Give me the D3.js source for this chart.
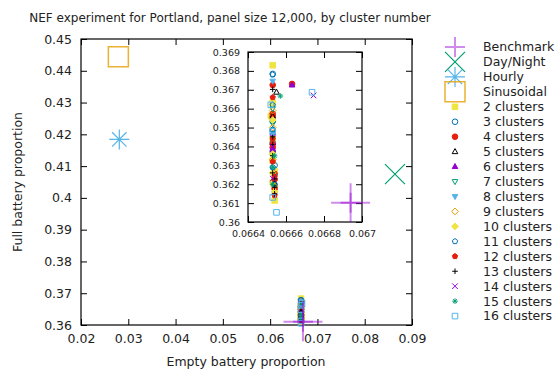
<!DOCTYPE html>
<html>
<head>
<meta charset="utf-8">
<script src="https://cdn.jsdelivr.net/npm/d3@7"></script>
<style>
  body { margin: 0; background: #fff; }
  text { font-family: "DejaVu Sans", sans-serif; fill: #222; }
</style>
</head>
<body>
<div id="chart"></div>
<script>
// values
const X_TICKS = [0.02, 0.03, 0.04, 0.05, 0.06, 0.07, 0.08, 0.09];
const X_LABELS = ["0.02", "0.03", "0.04", "0.05", "0.06", "0.07", "0.08", "0.09"];
const Y_TICKS = [0.36, 0.37, 0.38, 0.39, 0.40, 0.41, 0.42, 0.43, 0.44, 0.45];
const Y_LABELS = ["0.36", "0.37", "0.38", "0.39", "0.4", "0.41", "0.42", "0.43", "0.44", "0.45"];
const IX_TICKS = [0.0664, 0.0666, 0.0668, 0.067];
const IX_LABELS = ["0.0664", "0.0666", "0.0668", "0.067"];
const IY_TICKS = [0.36, 0.361, 0.362, 0.363, 0.364, 0.365, 0.366, 0.367, 0.368, 0.369];
const IY_LABELS = ["0.36", "0.361", "0.362", "0.363", "0.364", "0.365", "0.366", "0.367", "0.368", "0.369"];

const BASE_NAMES = ["Benchmark", "Day/Night", "Hourly", "Sinusoidal"];
const BASE_X = [0.06694, 0.0864, 0.0281, 0.0279];
const BASE_Y = [0.36102, 0.4075, 0.4184, 0.4444];

const CLUSTER_NAMES = ["2 clusters", "3 clusters", "4 clusters", "5 clusters", "6 clusters",
  "7 clusters", "8 clusters", "9 clusters", "10 clusters", "11 clusters", "12 clusters",
  "13 clusters", "14 clusters", "15 clusters", "16 clusters"];
const CLUSTER_X = [
  [0.06653, 0.06653, 0.06652, 0.06653, 0.06653, 0.06654, 0.06653, 0.06654],
  [0.06653, 0.06653, 0.06653, 0.06654, 0.06653],
  [0.066632, 0.06653, 0.06653, 0.06653, 0.06654, 0.06654, 0.06653, 0.06654, 0.06653],
  [0.06655, 0.06653, 0.06653, 0.06654],
  [0.066632, 0.06653, 0.06653, 0.06653],
  [0.06653, 0.06653, 0.06654, 0.06653],
  [0.06653, 0.06653, 0.06653, 0.06654],
  [0.06653, 0.06653, 0.06654, 0.06653],
  [0.06653, 0.06653, 0.06653, 0.06654, 0.06653],
  [0.06653, 0.06653, 0.06653, 0.06653, 0.06654],
  [0.06653, 0.06653, 0.06654, 0.06654, 0.06653],
  [0.06653, 0.06653, 0.06653, 0.06654, 0.06654, 0.06654, 0.06653, 0.06653],
  [0.066745, 0.06653, 0.06653],
  [0.06657, 0.06653, 0.06653, 0.06654],
  [0.066737, 0.06655, 0.06652, 0.06653, 0.06653]
];
const CLUSTER_Y = [
  [0.36830, 0.36632, 0.36561, 0.36325, 0.36210, 0.36114, 0.36440, 0.36270],
  [0.36784, 0.36535, 0.36486, 0.36300, 0.36420],
  [0.36731, 0.36725, 0.36574, 0.36412, 0.36255, 0.36176, 0.36395, 0.36225, 0.36560],
  [0.36687, 0.36560, 0.36380, 0.36205],
  [0.36725, 0.36386, 0.36370, 0.36470],
  [0.36520, 0.36350, 0.36240, 0.36600],
  [0.36746, 0.36470, 0.36280, 0.36150],
  [0.36500, 0.36330, 0.36190, 0.36590],
  [0.36540, 0.36360, 0.36260, 0.36160, 0.36620],
  [0.36780, 0.36620, 0.36290, 0.36490, 0.36200],
  [0.36660, 0.36440, 0.36240, 0.36141, 0.36320],
  [0.36702, 0.36451, 0.36351, 0.36228, 0.36184, 0.36149, 0.36410, 0.36260],
  [0.36670, 0.36400, 0.36230],
  [0.36667, 0.36290, 0.36200, 0.36350],
  [0.36687, 0.36051, 0.36620, 0.36480, 0.36130]
];

// gnuplot style colours and point types
const PURPLE = "#9400d3", GREEN = "#009e73", SKY = "#56b4e9", ORANGE = "#e69f00",
      YELLOW = "#f0e442", BLUE = "#0072b2", RED = "#e51e10", BLACK = "#000000";
const CLUSTER_COLORS = [YELLOW, BLUE, RED, BLACK, PURPLE, GREEN, SKY, ORANGE, YELLOW, BLUE, RED, BLACK, PURPLE, GREEN, SKY];
const CLUSTER_SHAPES = ["squareF", "circle", "circleF", "tri", "triF", "triD", "triDF", "diamond", "diamondF",
  "pent", "pentF", "plus", "cross", "star", "square"];

const WIDTH = 559, HEIGHT = 374;
const MAIN = {left: 81, right: 412, top: 39, bottom: 325};
const INSET = {left: 248, right: 362, top: 52, bottom: 222};

const svg = d3.select("#chart").append("svg")
  .attr("width", WIDTH).attr("height", HEIGHT);

const X_SCALE = d3.scaleLinear().domain([0.02, 0.09]).range([MAIN.left, MAIN.right]);
const Y_SCALE = d3.scaleLinear().domain([0.36, 0.45]).range([MAIN.bottom, MAIN.top]);
const IX_SCALE = d3.scaleLinear().domain([0.0664, 0.067]).range([INSET.left, INSET.right]);
const IY_SCALE = d3.scaleLinear().domain([0.36, 0.369]).range([INSET.bottom, INSET.top]);

// path for a gnuplot-like point symbol
function symbolPath(shape, cx, cy, s) {
  const p = d3.path();
  if (shape == "plus" || shape == "star") {
    p.moveTo(cx - s, cy); p.lineTo(cx + s, cy);
    p.moveTo(cx, cy - s); p.lineTo(cx, cy + s);
  }
  if (shape == "cross" || shape == "star") {
    const d = shape == "star" ? s * 0.72 : s;
    p.moveTo(cx - d, cy - d); p.lineTo(cx + d, cy + d);
    p.moveTo(cx - d, cy + d); p.lineTo(cx + d, cy - d);
  }
  if (shape.startsWith("square")) {
    p.rect(cx - s, cy - s, 2 * s, 2 * s);
  }
  if (shape.startsWith("circle")) {
    p.moveTo(cx + s, cy); p.arc(cx, cy, s, 0, 2 * Math.PI);
  }
  if (shape == "tri" || shape == "triF") {
    p.moveTo(cx, cy - s * 1.1); p.lineTo(cx + s, cy + s * 0.7); p.lineTo(cx - s, cy + s * 0.7); p.closePath();
  }
  if (shape.startsWith("triD")) {
    p.moveTo(cx, cy + s * 1.1); p.lineTo(cx + s, cy - s * 0.7); p.lineTo(cx - s, cy - s * 0.7); p.closePath();
  }
  if (shape.startsWith("diamond")) {
    p.moveTo(cx, cy - s * 1.2); p.lineTo(cx + s * 1.2, cy); p.lineTo(cx, cy + s * 1.2); p.lineTo(cx - s * 1.2, cy); p.closePath();
  }
  if (shape.startsWith("pent")) {
    for (let i = 0; i < 5; i++) {
      const a = -Math.PI / 2 + i * 2 * Math.PI / 5;
      if (i == 0) p.moveTo(cx + s * Math.cos(a), cy + s * Math.sin(a));
      else p.lineTo(cx + s * Math.cos(a), cy + s * Math.sin(a));
    }
    p.closePath();
  }
  return p.toString();
}

function drawSymbol(g, shape, cx, cy, s, color, sw, op) {
  const filled = shape.endsWith("F");
  g.append("path")
    .attr("d", symbolPath(shape, cx, cy, s))
    .attr("fill", filled ? color : "none")
    .attr("stroke", color)
    .attr("stroke-width", sw || 1)
    .attr("stroke-opacity", op || 1);
}

function drawBase(g, i, cx, cy, legend) {
  if (i == 0) {
    if (!legend) drawSymbol(g, "plus", cx, cy, 19.5, PURPLE, 2, 0.45);
    drawSymbol(g, "plus", cx, cy, 10, PURPLE, 2, 0.45);
  }
  if (i == 1) drawSymbol(g, "cross", cx, cy, 10, GREEN, 1.2);
  if (i == 2) drawSymbol(g, "star", cx, cy, 10, SKY, 1.2);
  if (i == 3) drawSymbol(g, "square", cx, cy, 10, ORANGE, 1.5, 0.8);
}

// axis with inward ticks on all four sides
function frameAxes(xs, ys, xt, xl, yt, yl, fs, pad) {
  const g = svg.append("g");
  const [l, r] = xs.range(), [b, t] = ys.range();
  g.append("g").attr("transform", "translate(0," + b + ")")
    .call(d3.axisBottom(xs).tickValues(xt).tickFormat((d, i) => xl[i]).tickSizeInner(-6).tickSizeOuter(0).tickPadding(pad));
  g.append("g").attr("transform", "translate(0," + t + ")")
    .call(d3.axisTop(xs).tickValues(xt).tickFormat("").tickSizeInner(-6).tickSizeOuter(0));
  g.append("g").attr("transform", "translate(" + l + ",0)")
    .call(d3.axisLeft(ys).tickValues(yt).tickFormat((d, i) => yl[i]).tickSizeInner(-6).tickSizeOuter(0).tickPadding(pad));
  g.append("g").attr("transform", "translate(" + r + ",0)")
    .call(d3.axisRight(ys).tickValues(yt).tickFormat("").tickSizeInner(-6).tickSizeOuter(0));
  g.selectAll(".domain").remove();
  g.selectAll(".tick line").attr("stroke", "#000");
  g.selectAll(".tick text").attr("font-size", fs + "px").attr("fill", "#222")
    .attr("font-family", "DejaVu Sans");
  g.append("rect").attr("x", l).attr("y", t).attr("width", r - l).attr("height", b - t)
    .attr("fill", "none").attr("stroke", "#000").attr("stroke-width", 1.2);
}

// main plot
frameAxes(X_SCALE, Y_SCALE, X_TICKS, X_LABELS, Y_TICKS, Y_LABELS, 12.5, 9);
const mainPts = svg.append("g");
CLUSTER_NAMES.forEach((n, k) => {
  CLUSTER_X[k].forEach((x, j) => {
    drawSymbol(mainPts, CLUSTER_SHAPES[k], X_SCALE(x), Y_SCALE(CLUSTER_Y[k][j]), 2.8, CLUSTER_COLORS[k], 1);
  });
});
BASE_NAMES.forEach((n, i) => drawBase(mainPts, i, X_SCALE(BASE_X[i]), Y_SCALE(BASE_Y[i]), false));

// inset
svg.append("rect").attr("x", INSET.left).attr("y", INSET.top)
  .attr("width", INSET.right - INSET.left).attr("height", INSET.bottom - INSET.top).attr("fill", "#fff");
frameAxes(IX_SCALE, IY_SCALE, IX_TICKS, IX_LABELS, IY_TICKS, IY_LABELS, 9.5, 8);
const insetPts = svg.append("g");
const inRange = (x, y) => x >= 0.0664 && x <= 0.067 && y >= 0.36 && y <= 0.369;
CLUSTER_NAMES.forEach((n, k) => {
  CLUSTER_X[k].forEach((x, j) => {
    if (inRange(x, CLUSTER_Y[k][j]))
      drawSymbol(insetPts, CLUSTER_SHAPES[k], IX_SCALE(x), IY_SCALE(CLUSTER_Y[k][j]), 2.8, CLUSTER_COLORS[k], 1);
  });
});
BASE_NAMES.forEach((n, i) => {
  if (inRange(BASE_X[i], BASE_Y[i])) drawBase(insetPts, i, IX_SCALE(BASE_X[i]), IY_SCALE(BASE_Y[i]), false);
});

// legend
const legend = svg.append("g");
const ROW = 14.95, LEG_Y = 47, LEG_SYM = 455, LEG_TEXT = 483;
BASE_NAMES.concat(CLUSTER_NAMES).forEach((name, i) => {
  const yy = LEG_Y + i * ROW;
  if (i < 4) drawBase(legend, i, LEG_SYM, yy, true);
  else drawSymbol(legend, CLUSTER_SHAPES[i - 4], LEG_SYM, yy, 2.8, CLUSTER_COLORS[i - 4], 1);
  legend.append("text").attr("x", LEG_TEXT).attr("y", yy).attr("dy", "0.35em")
    .attr("font-size", "12.5px").text(name);
});

// titles
svg.append("text").attr("x", 230).attr("y", 22).attr("text-anchor", "middle")
  .attr("font-size", "12px").text("NEF experiment for Portland, panel size 12,000, by cluster number");
svg.append("text").attr("x", 246).attr("y", 366).attr("text-anchor", "middle")
  .attr("font-size", "12.5px").text("Empty battery proportion");
svg.append("text").attr("transform", "translate(22,182) rotate(-90)").attr("text-anchor", "middle")
  .attr("font-size", "12.5px").text("Full battery proportion");
</script>
</body>
</html>
